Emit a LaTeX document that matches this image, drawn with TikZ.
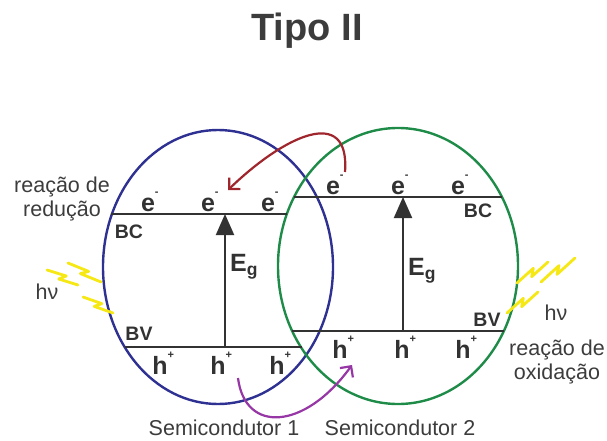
\documentclass[tikz,border=0pt]{standalone}
\usepackage{fontspec}
\setmainfont{Liberation Sans}
\usetikzlibrary{arrows.meta,calc}
\definecolor{sc1}{RGB}{46,49,146}
\definecolor{sc2}{RGB}{30,140,72}
\definecolor{redarr}{RGB}{160,38,45}
\definecolor{purarr}{RGB}{150,55,165}
\definecolor{bolty}{RGB}{245,232,20}
\definecolor{txt}{RGB}{60,60,60}
\definecolor{band}{RGB}{50,50,50}
\newcommand{\lbolt}[2]{\draw[boltline] (#1) -- ($(#1)!0.58!(#2)!3pt!90:(#2)$) -- ($(#1)!0.42!(#2)!3pt!-90:(#2)$) -- (#2);}
\newcommand{\smallsup}[1]{\rlap{\raisebox{0.62em}{\fontsize{11}{11}\selectfont #1}}}
\begin{document}
\begin{tikzpicture}[x=1pt,y=-1pt,
  bandline/.style={draw=band,line width=2.4pt},
  gaparrow/.style={draw=band,line width=2pt,-{Triangle[length=21pt,width=18pt]}},
  carrier/.style={font=\fontsize{25}{28}\selectfont\bfseries,text=band,inner sep=0pt,anchor=base},
  bandlbl/.style={font=\fontsize{19.5}{21}\selectfont\bfseries,text=band,inner sep=0pt},
  eglbl/.style={font=\fontsize{25}{28}\selectfont\bfseries,text=band,inner sep=0pt,anchor=west},
  plain/.style={font=\fontsize{21.5}{24}\selectfont,text=txt,inner sep=0pt,align=center},
  boltline/.style={draw=bolty,line width=2.8pt,line join=round,line cap=round},
  transfer/.style={line width=2.2pt,-{Straight Barb[length=8pt,width=16pt,line width=2.2pt]}}
]
\useasboundingbox (0,0) rectangle (607,441);

% title
\node[font=\fontsize{38}{40}\selectfont\bfseries,text=txt,inner sep=0pt] (title) at (307,31) {Tipo II};

% ellipses
\draw[sc1,line width=2.4pt] (218,267) ellipse [x radius=115pt,y radius=137pt];
\draw[sc2,line width=2.4pt] (398,266) ellipse [x radius=120pt,y radius=138pt];

% band coordinates
\coordinate (bc1l) at (111,214);
\coordinate (bc1r) at (287,214);
\coordinate (bv1l) at (125,347);
\coordinate (bv1r) at (302,347);
\coordinate (bc2l) at (294,197);
\coordinate (bc2r) at (502,197);
\coordinate (bv2l) at (292,331);
\coordinate (bv2r) at (504,331);
\draw[bandline] (bc1l) -- (bc1r);
\draw[bandline] (bv1l) -- (bv1r);
\draw[bandline] (bc2l) -- (bc2r);
\draw[bandline] (bv2l) -- (bv2r);

% gap arrows
\coordinate (g1b) at (225,347);
\coordinate (g1t) at (225,214);
\coordinate (g2b) at (403,331);
\coordinate (g2t) at (403,197);
\draw[gaparrow] (g1b) -- (g1t);
\draw[gaparrow] (g2b) -- (g2t);
\node[eglbl] (eg1) at (230,267) {E\textsubscript{g}};
\node[eglbl] (eg2) at (408,271) {E\textsubscript{g}};

% electrons
\node[carrier] (e11) at (148,211) {e\smallsup{-}};
\node[carrier] (e12) at (208,211) {e\smallsup{-}};
\node[carrier] (e13) at (268,211) {e\smallsup{-}};
\node[carrier] (e21) at (333,194) {e\smallsup{-}};
\node[carrier] (e22) at (398,194) {e\smallsup{-}};
\node[carrier] (e23) at (458,194) {e\smallsup{-}};
% holes
\node[carrier] (h11) at (160,374) {h\smallsup{+}};
\node[carrier] (h12) at (218,374) {h\smallsup{+}};
\node[carrier] (h13) at (277,374) {h\smallsup{+}};
\node[carrier] (h21) at (340,358) {h\smallsup{+}};
\node[carrier] (h22) at (402,358) {h\smallsup{+}};
\node[carrier] (h23) at (463,358) {h\smallsup{+}};

% band labels
\node[bandlbl] (bc1) at (129,232) {BC};
\node[bandlbl] (bv1) at (139,334) {BV};
\node[bandlbl] (bc2) at (478,211) {BC};
\node[bandlbl] (bv2) at (487,320) {BV};

% transfer arrows
\coordinate (rs) at (345,172);
\coordinate (re) at (228,190);
\draw[transfer,redarr] (rs) .. controls (350,105) and (285,135) .. (re);
\coordinate (ps) at (238,378);
\coordinate (pe) at (352,365);
\draw[transfer,purarr] (ps) .. controls (245,434) and (305,430) .. (pe);

% light bolts
\coordinate (la1) at (47,270);  \coordinate (lb1) at (78,285);
\coordinate (la2) at (68,263);  \coordinate (lb2) at (101,282);
\coordinate (la3) at (83,297);  \coordinate (lb3) at (113,313);
\coordinate (ra1) at (548,262); \coordinate (rb1) at (517,283);
\coordinate (ra2) at (575,258); \coordinate (rb2) at (541,282);
\coordinate (ra3) at (538,292); \coordinate (rb3) at (507,313);
\lbolt{la1}{lb1}
\lbolt{la2}{lb2}
\lbolt{la3}{lb3}
\lbolt{ra1}{rb1}
\lbolt{ra2}{rb2}
\lbolt{ra3}{rb3}

% text labels
\node[plain] (hv1) at (47,292) {hν};
\node[plain] (hv2) at (556,313) {hν};
\node[plain] (red) at (62,199) {reação de\\redução};
\node[plain] (oxi) at (557,362) {reação de\\oxidação};
\node[plain] (s1) at (224,428) {Semicondutor 1};
\node[plain] (s2) at (400,428) {Semicondutor 2};
\end{tikzpicture}
\end{document}
